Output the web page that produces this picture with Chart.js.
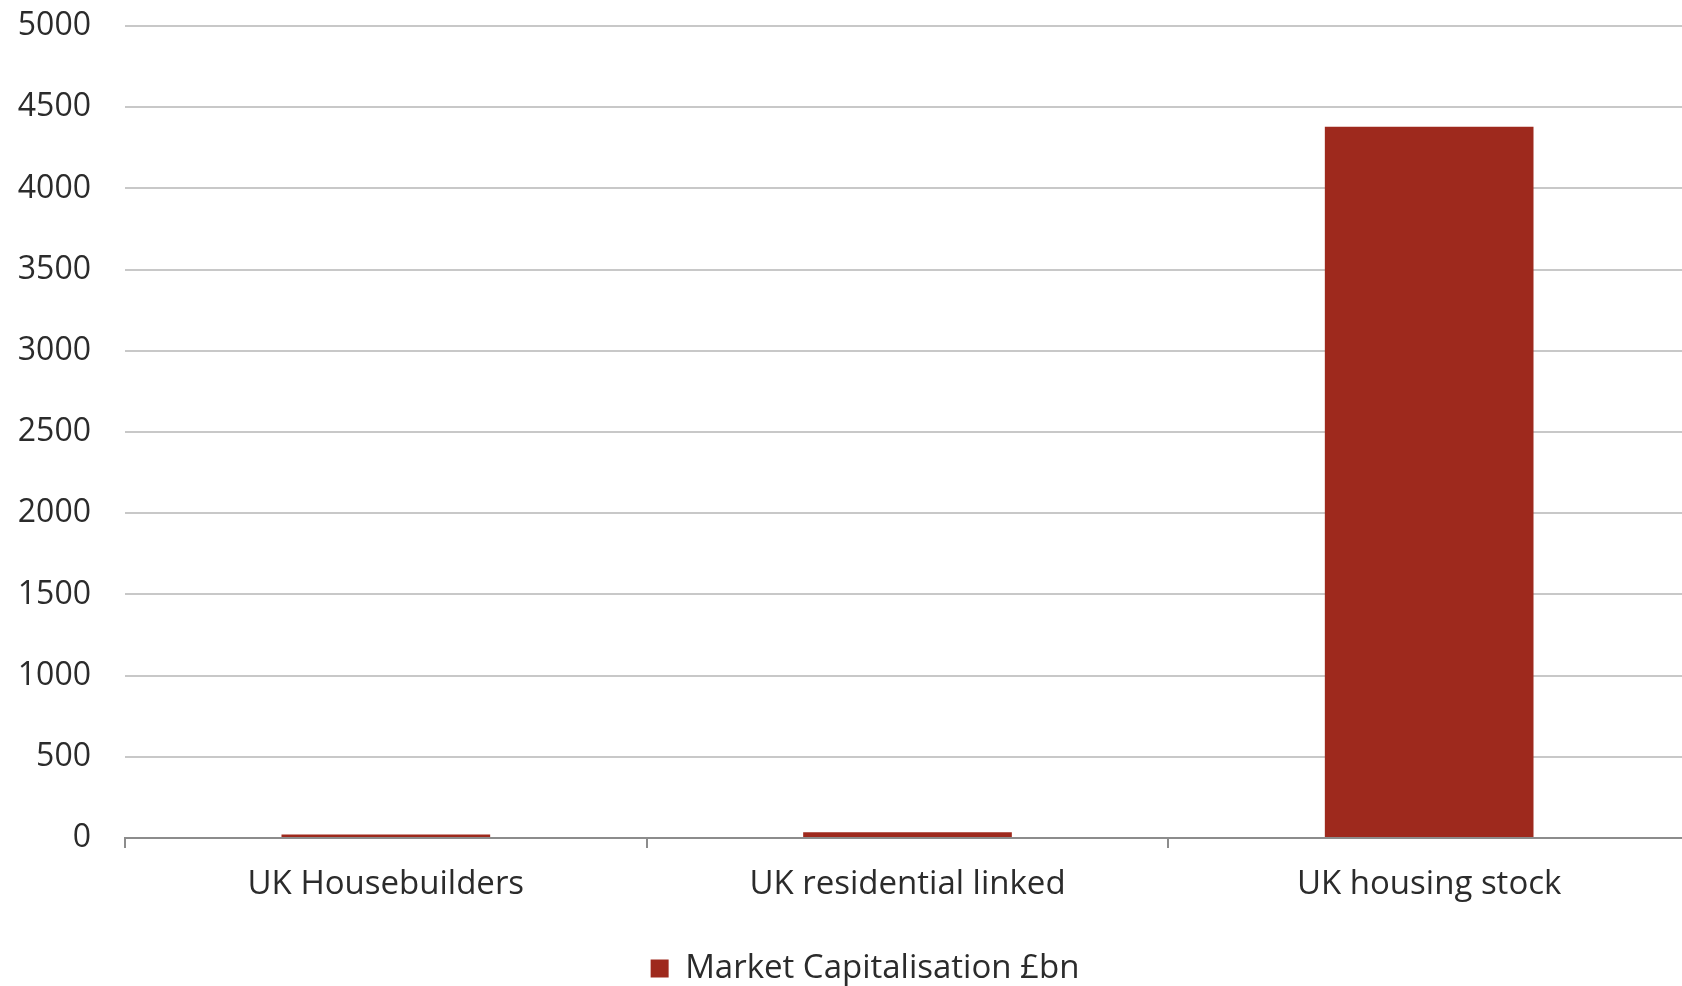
<!DOCTYPE html>
<html>
<head>
<meta charset="utf-8">
<script src="https://cdn.jsdelivr.net/npm/chart.js@4/dist/chart.umd.min.js"></script>
<style>
    html, body { margin: 0; padding: 0; background: #fff; overflow: hidden; }
    #wrap { position: relative; width: 1690px; height: 995px; }
</style>
</head>
<body>
<div id="wrap"><canvas id="chart"></canvas></div>
<script>
const categories = ['UK Housebuilders', 'UK residential linked', 'UK housing stock'];
const marketCap = [22, 36, 4380];
const seriesLabel = 'Market Capitalisation £bn';
const yMax = 5000;
const yStep = 500;

const textColor = '#2b2b2b';
const fontFamily = '"Open Sans", "Noto Sans", sans-serif';

// nudge the legend a little right of the canvas centre
const legendShift = {
    id: 'legendShift',
    afterLayout(chart) {
        chart.legend.left += 20;
        chart.legend.right += 20;
    }
};

new Chart(document.getElementById('chart'), {
    type: 'bar',
    data: {
        labels: categories,
        datasets: [{
            label: seriesLabel,
            data: marketCap,
            backgroundColor: '#9E291D',
            barPercentage: 0.4,
            categoryPercentage: 1,
        }]
    },
    plugins: [legendShift],
    options: {
        responsive: true,
        maintainAspectRatio: false,
        animation: false,
        layout: { padding: { top: 26, right: 0, bottom: 0, left: 0 } },
        plugins: {
            tooltip: { enabled: false },
            legend: {
                position: 'bottom',
                labels: {
                    color: textColor,
                    font: { family: fontFamily, size: 33 },
                    boxWidth: 18,
                    boxHeight: 18,
                    padding: 4,
                }
            }
        },
        scales: {
            x: {
                grid: {
                    drawOnChartArea: false,
                    drawTicks: true,
                    tickLength: 10,
                    color: '#8c8c8c',
                    lineWidth: 2,
                },
                border: { display: true, color: '#8c8c8c', width: 2 },
                ticks: {
                    color: textColor,
                    font: { family: fontFamily, size: 33 },
                    padding: 17,
                },
                afterFit: (scale) => { scale.height = 110; }
            },
            y: {
                min: 0,
                max: yMax,
                grid: {
                    drawTicks: false,
                    color: (ctx) => ctx.tick.value === 0 ? 'rgba(0,0,0,0)' : '#c8c8c8',
                    lineWidth: 2,
                },
                border: { display: false },
                ticks: {
                    stepSize: yStep,
                    color: textColor,
                    font: { family: fontFamily, size: 32 },
                    padding: 34,
                    callback: (value) => String(value),
                },
                afterFit: (scale) => {
                    scale.width = 125;
                    scale.paddingTop = 0;
                    scale.paddingBottom = 0;
                }
            }
        }
    }
});
</script>
</body>
</html>
